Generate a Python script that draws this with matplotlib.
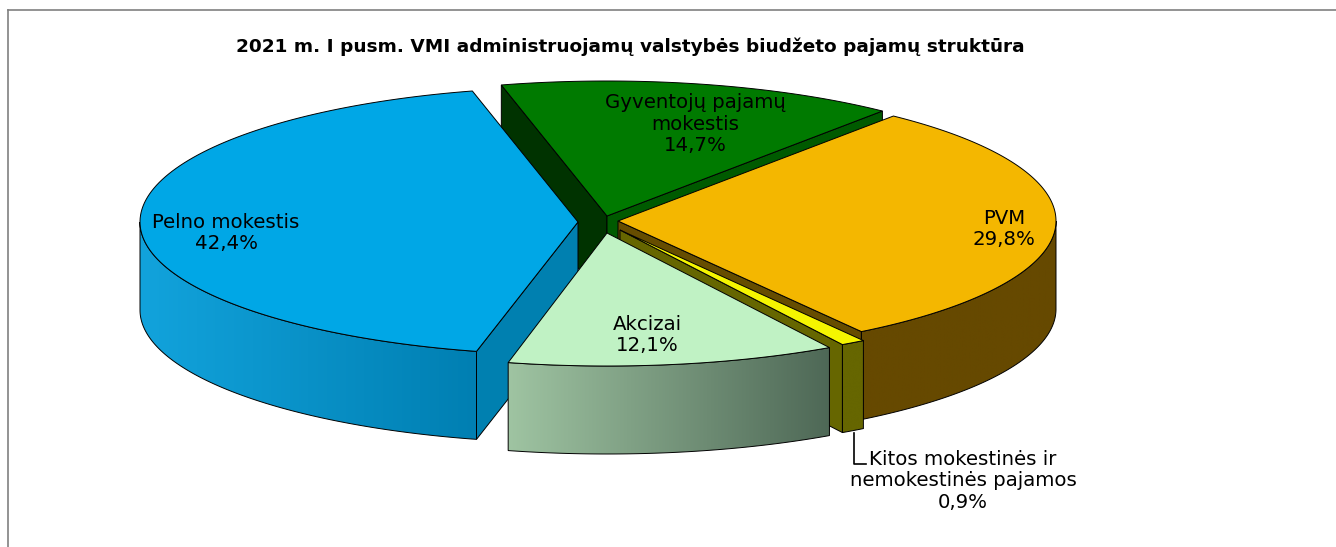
import numpy as np
import matplotlib
matplotlib.use("Agg")
import matplotlib.pyplot as plt
from matplotlib.patches import Polygon
from matplotlib.colors import LinearSegmentedColormap

# Data
labels = ["Pelno mokestis", "Gyventojų pajamų\nmokestis", "PVM",
          "Kitos mokestinės ir\nnemokestinės pajamos", "Akcizai"]
shares = [42.4, 14.7, 29.8, 0.9, 12.1]
title = "2021 m. I pusm. VMI administruojamų valstybės biudžeto pajamų struktūra"

# Pie geometry in pixels
start_angle = 256.6
rx, ry_back, ry_front, depth = 438, 135, 133, 88
centres = [(578, 222), (607, 216), (618, 221), (620, 230), (607, 233)]
top_colors = ["#00a7e6", "#007a00", "#f4b700", "#f5f500", "#c0f2c4"]
start_wall = ["#0080b0", "#003300", "#664d00", "#666600", "#c0f2c4"]
end_wall = ["#0080b0", "#005a00", "#664d00", "#666600", "#4f6654"]
outer_ramp = [("#12a3dc", "#007fb2"), None, ("#664900", "#664900"),
              ("#666600", "#666600"), ("#9fc4a2", "#4e6856")]
label_pos = [(226, 233), (695, 124), (1004, 229), (963, 481), (647, 335)]
draw_order = [1, 2, 3, 0, 4]

fig = plt.figure(figsize=(13.36, 5.47), dpi=100)
ax = fig.add_axes([0, 0, 1, 1])
plt.rcParams["font.family"] = "DejaVu Sans"


def rim(c, a0, a1):
    t = np.radians(np.linspace(a0, a1, 120))
    s = np.sin(t)
    return np.column_stack([c[0] + rx * np.cos(t), c[1] - np.where(s > 0, ry_back, ry_front) * s])


def flat(pts, color):
    ax.add_patch(Polygon(pts, closed=True, facecolor=color, edgecolor="black", lw=0.7))


# Angles run clockwise from the start angle
ends = start_angle - np.cumsum(shares) * 3.6
starts = np.r_[start_angle, ends[:-1]]

for i in draw_order:
    c, a0, a1 = centres[i], starts[i], ends[i]
    p0, p1 = rim(c, a0, a0)[0], rim(c, a1, a1)[0]
    apex = np.array(c, dtype=float)
    down = np.array([0, depth])

    # side walls of the cut, only those turned to the viewer
    if np.cos(np.radians(a0)) < 0:
        flat([apex, p0, p0 + down, apex + down], start_wall[i])
    if np.cos(np.radians(a1)) > 0:
        flat([apex, p1, p1 + down, apex + down], end_wall[i])

    # outer wall, only the part that faces the viewer
    if a0 > 180:
        hi, lo = a0, max(a1, 180)
    else:
        hi, lo = min(a0, 0), max(a1, -180)
    if outer_ramp[i] is not None and hi > lo:
        top = rim(c, hi, lo)
        wall = np.vstack([top, top[::-1] + down])
        patch = Polygon(wall, closed=True, facecolor="none", edgecolor="black", lw=0.7, zorder=2)
        ramp = LinearSegmentedColormap.from_list("ramp", outer_ramp[i])
        im = ax.imshow(np.linspace(0, 1, 256)[None, :], cmap=ramp, aspect="auto",
                       extent=(wall[:, 0].min(), wall[:, 0].max(), wall[:, 1].max(), wall[:, 1].min()),
                       zorder=2)
        ax.add_patch(patch)
        im.set_clip_path(patch)

    # top face
    ax.add_patch(Polygon(np.vstack([apex, rim(c, a0, a1)]), closed=True,
                         facecolor=top_colors[i], edgecolor="black", lw=0.7, zorder=2))

# Labels
for name, val, (x, y) in zip(labels, shares, label_pos):
    txt = name + "\n" + f"{val:.1f}%".replace(".", ",")
    ax.text(x, y, txt, ha="center", va="center", fontsize=14.2, color="black",
            linespacing=1.18, zorder=5)

ax.plot([854, 854, 866], [433, 464, 464], color="black", lw=1.2, zorder=5)
ax.text(630, 47, title, ha="center", va="center", fontsize=13.3, fontweight="bold", zorder=5)

# Chart frame
ax.plot([8, 8], [547, 10], color="#808080", lw=1.2, zorder=1)
ax.plot([8, 1336], [10, 10], color="#808080", lw=1.2, zorder=1)

ax.set_xlim(0, 1336)
ax.set_ylim(547, 0)
ax.axis("off")
fig.savefig("out.png", dpi=100)
